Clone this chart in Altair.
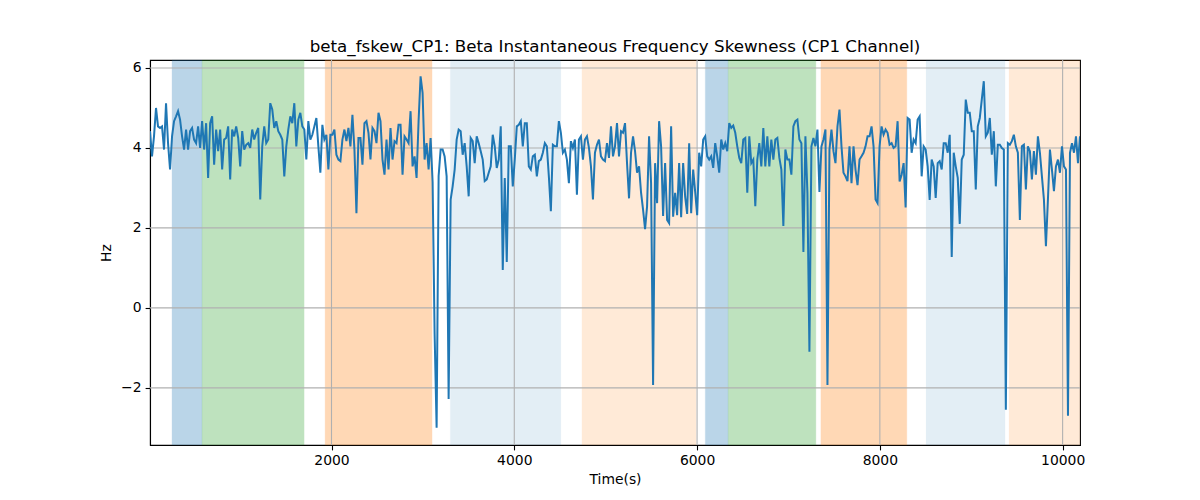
import altair as alt
import pandas as pd

# ── data ────────────────────────────────────────────────────────────────────

TIME_START = 14.0      # first sample (s)
TIME_END = 10190.0     # last sample (s)

SKEW_HZ = [
    # 14 s .. ~1700 s
    4.42, 3.79, 4.29, 5.0, 4.54, 4.5, 4.54, 3.96, 5.12, 4.12, 3.46, 4.29, 4.67, 4.79, 4.92, 4.71,
    4.29, 3.96, 4.46, 3.96, 4.42, 4.5, 4.21, 4.12, 4.54, 4.0, 4.67, 3.96, 4.62, 3.25, 4.62, 4.79,
    3.58, 4.46, 3.92, 4.46, 3.46, 4.21, 4.25, 4.54, 3.21, 4.46, 4.29, 4.54, 4.25, 3.54, 4.42, 3.96,
    4.08, 4.12, 4.0, 4.46, 4.21, 4.38, 4.5, 2.71, 4.04, 4.54, 4.12, 4.21, 5.12, 4.96, 4.5, 4.67,
    4.42, 4.33, 4.21, 3.29, 4.04, 4.46, 4.79, 4.62, 5.12, 4.04, 4.71, 4.88, 4.54,
    # ~1700 s .. ~3400 s
    4.46, 3.71, 4.67, 4.21, 4.33, 4.54, 4.75, 4.04, 3.38, 4.58, 4.21, 4.33, 3.46, 4.33, 4.33, 4.46,
    3.83, 3.71, 3.67, 4.21, 4.46, 4.17, 4.5, 4.04, 4.83, 3.96, 2.37, 4.25, 4.25, 3.58, 4.62, 4.67,
    4.38, 3.71, 4.5, 4.42, 4.12, 4.88, 4.67, 3.71, 3.33, 4.21, 3.46, 4.5, 3.71, 4.17, 4.12, 4.58,
    4.58, 3.33, 4.29, 4.21, 4.12, 4.92, 3.54, 3.79, 3.25, 4.67, 5.79, 5.38, 3.71, 4.12, 3.46, 4.25,
    3.15, -0.65, -3.0, 3.3, 3.96, 3.96, 3.79, 3.29, -2.28, 2.71, 3.04, 3.46, 4.21,
    # ~3400 s .. ~5100 s
    4.46, 4.42, 3.83, 4.12, 3.54, 2.79, 4.25, 4.17, 3.62, 4.29, 4.12, 3.92, 3.71, 3.17, 3.21, 3.38,
    3.54, 4.33, 4.04, 3.5, 3.71, 4.54, 0.95, 3.25, 1.15, 4.04, 4.04, 3.04, 3.71, 4.54, 4.58, 4.67,
    4.04, 4.62, 4.62, 3.54, 3.46, 3.79, 3.83, 3.29, 3.67, 3.71, 3.88, 4.12, 4.04, 3.29, 2.42, 4.08,
    4.04, 4.04, 4.67, 4.38, 3.88, 3.96, 3.71, 3.12, 4.17, 4.0, 4.21, 2.83, 4.21, 4.29, 3.71, 4.21,
    4.29, 4.0, 3.54, 2.71, 3.88, 4.08, 4.21, 3.79, 3.71, 3.67, 4.12, 3.75, 4.54,
    # ~5100 s .. ~6800 s
    3.79, 4.04, 4.62, 3.79, 4.42, 4.38, 4.62, 3.62, 2.74, 3.88, 4.29, 3.92, 3.38, 3.54, 2.88, 2.46,
    1.97, 2.54, 4.29, 3.12, -1.93, 3.62, 2.62, 4.67, 4.04, 2.3, 3.62, 2.2, 2.12, 4.54, 2.28, 2.88,
    2.32, 3.62, 2.27, 3.62, 2.78, 2.35, 4.12, 2.37, 3.46, 2.9, 2.32, 3.88, 3.54, 4.21, 4.29, 3.79,
    3.71, 3.79, 3.5, 4.12, 3.79, 3.38, 4.21, 3.96, 4.12, 3.92, 4.62, 4.5, 4.56, 4.38, 4.04, 3.75,
    3.62, 4.21, 4.25, 2.88, 4.29, 3.62, 3.71, 2.54, 3.71, 4.12, 3.54, 4.5, 3.54,
    # ~6800 s .. ~8500 s
    4.29, 3.54, 4.21, 3.71, 4.21, 4.25, 3.75, 3.46, 2.05, 3.96, 3.71, 3.71, 3.33, 4.54, 4.67, 4.71,
    4.21, 4.12, 1.4, 4.29, 2.87, -1.1, 4.04, 4.25, 4.04, 4.46, 2.9, 4.04, 4.21, 4.46, -1.93, 3.96,
    4.46, 3.92, 3.62, 4.54, 4.96, 4.04, 3.38, 3.29, 3.17, 4.04, 3.12, 4.04, 3.46, 3.07, 3.71, 3.79,
    3.88, 4.04, 4.29, 4.29, 4.54, 4.04, 2.71, 2.62, 4.04, 4.54, 4.33, 4.46, 4.38, 4.08, 4.12, 4.0,
    4.04, 4.67, 3.16, 3.33, 3.62, 2.51, 4.75, 4.71, 3.88, 4.21, 4.12, 4.71, 4.79,
    # ~8500 s .. 10190 s
    3.29, 4.04, 3.96, 3.54, 2.7, 3.71, 3.54, 2.75, 3.62, 3.67, 3.46, 4.12, 4.12, 3.88, 4.33, 1.27,
    3.88, 3.54, 3.25, 2.1, 3.71, 3.83, 5.21, 4.88, 4.88, 4.42, 4.42, 2.96, 4.54, 4.75, 5.21, 5.67,
    4.29, 4.38, 4.75, 3.83, 4.42, 3.04, 4.08, 4.08, 4.0, 3.96, -2.55, 4.12, 4.08, 4.17, 4.33, 4.04,
    3.88, 2.2, 4.04, 4.08, 2.96, 4.04, 3.92, 3.21, 3.92, 3.33, 4.29, 3.88, 3.29, 2.71, 1.54, 2.71,
    3.96, 3.46, 2.92, 3.54, 3.71, 3.38, 4.04, 3.54, 3.46, -2.7, 3.88, 4.12, 3.88, 4.29, 3.62, 4.29,
]

# shaded epochs (axvspan-like)
BAND_START = [255, 583, 1930, 3300, 4740, 6090, 6340, 7355, 8505, 9413]
BAND_END = [583, 1700, 3100, 4510, 5990, 6340, 7300, 8295, 9370, 10190]
BAND_COLOR = ["#1f77b4", "#2ca02c", "#ff7f0e", "#1f77b4", "#ff7f0e",
              "#1f77b4", "#2ca02c", "#ff7f0e", "#1f77b4", "#ff7f0e"]
BAND_ALPHA = [0.3, 0.3, 0.3, 0.12, 0.16, 0.3, 0.3, 0.3, 0.12, 0.16]

X_TICKS = [2000, 4000, 6000, 8000, 10000]
Y_TICKS = [-2, 0, 2, 4, 6]
Y_DOMAIN = [-3.43, 6.2]

TITLE = "beta_fskew_CP1: Beta Instantaneous Frequency Skewness (CP1 Channel)"

# ── styling ─────────────────────────────────────────────────────────────────

LINE_COLOR = "#1f77b4"
GRID_COLOR = "#b0b0b0"
FONT = "DejaVu Sans"
W, H = 930, 385

# ── frames ──────────────────────────────────────────────────────────────────

step = (TIME_END - TIME_START) / (len(SKEW_HZ) - 1)
series = pd.DataFrame({
    "time": [TIME_START + i * step for i in range(len(SKEW_HZ))],
    "hz": SKEW_HZ,
})
bands = pd.DataFrame({
    "start": BAND_START, "end": BAND_END,
    "color": BAND_COLOR, "alpha": BAND_ALPHA,
})
xgrid = pd.DataFrame({"x": X_TICKS})
ygrid = pd.DataFrame({"y": Y_TICKS})

x_scale = alt.Scale(domain=[TIME_START, TIME_END], nice=False, zero=False)
y_scale = alt.Scale(domain=Y_DOMAIN, nice=False, zero=False)

x_axis = alt.Axis(values=X_TICKS, format="d", title="Time(s)", titlePadding=5)
y_axis = alt.Axis(values=Y_TICKS, format="d", title="Hz", titlePadding=7,
                  labelExpr="replace(datum.label, '-', '\u2212')")

band_layer = alt.Chart(bands).mark_rect(strokeWidth=1).encode(
    x=alt.X("start:Q", scale=x_scale, axis=x_axis),
    x2="end:Q",
    y=alt.value(0),
    y2=alt.value(H),
    color=alt.Color("color:N", scale=None, legend=None),
    stroke=alt.Stroke("color:N", scale=None, legend=None),
    opacity=alt.Opacity("alpha:Q", scale=None, legend=None),
    strokeOpacity=alt.StrokeOpacity("alpha:Q", scale=None, legend=None),
)

vgrid = alt.Chart(xgrid).mark_rule(color=GRID_COLOR, strokeWidth=1.1).encode(
    x=alt.X("x:Q", scale=x_scale, axis=x_axis),
)
hgrid = alt.Chart(ygrid).mark_rule(color=GRID_COLOR, strokeWidth=1.1).encode(
    y=alt.Y("y:Q", scale=y_scale, axis=y_axis),
)

line = alt.Chart(series).mark_line(color=LINE_COLOR, strokeWidth=2, clip=True).encode(
    x=alt.X("time:Q", scale=x_scale, axis=x_axis),
    y=alt.Y("hz:Q", scale=y_scale, axis=y_axis),
)

chart = (band_layer + vgrid + hgrid + line).properties(
    width=W,
    height=H,
    autosize=alt.AutoSizeParams(type="none"),
    padding={"left": 142, "top": 52, "right": 100, "bottom": 47},
    title=alt.Title(TITLE, fontSize=16.7, fontWeight="normal", font=FONT,
                    color="black", anchor="middle", baseline="bottom", offset=-13),
).configure(
    background="white",
).configure_axis(
    grid=False,
    domainColor="black",
    domainWidth=1.1,
    tickColor="black",
    tickWidth=1.1,
    tickSize=4.9,
    labelPadding=4,
    labelFont=FONT,
    labelFontSize=13.9,
    labelColor="black",
    titleFont=FONT,
    titleFontSize=13.9,
    titleFontWeight="normal",
    titleColor="black",
).configure_view(
    stroke="black",
    strokeWidth=1.1,
)

chart.save("out.html", embed_options={"renderer": "svg", "actions": False})
